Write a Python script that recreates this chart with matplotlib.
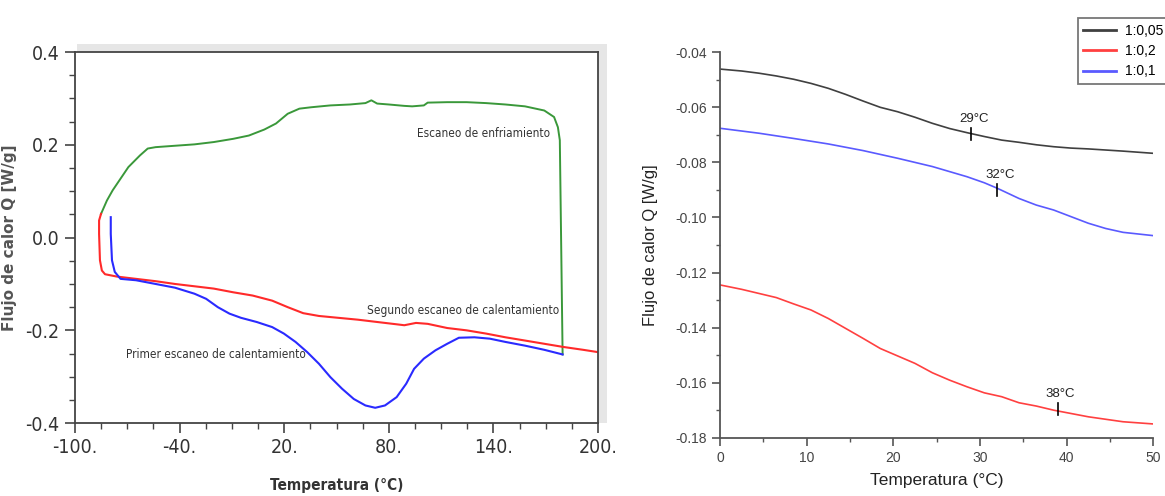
import matplotlib
matplotlib.use("Agg")
import matplotlib.pyplot as plt
from matplotlib.patches import Rectangle
from matplotlib.ticker import MultipleLocator, FuncFormatter

# ---- panel izquierdo: barridos DSC (-100 a 200 C)
enfr_x = [179.7, 178.8, 178.1, 177.0, 174.8, 169.2, 158.1, 146.9, 135.8, 124.6, 113.5,
          102.3, 100.1, 93.4, 88.9, 80.0, 73.3, 70.0, 66.6, 57.7, 46.5, 35.4, 28.7, 22.0,
          15.3, 8.6, -0.3, -9.2, -20.4, -31.5, -42.7, -53.8, -58.3, -62.8, -69.4, -73.9,
          -78.4, -81.7, -85.1]
enfr_y = [-0.252, 0.008, 0.210, 0.238, 0.260, 0.274, 0.283, 0.287, 0.290, 0.292, 0.292,
          0.291, 0.285, 0.283, 0.284, 0.287, 0.289, 0.296, 0.290, 0.287, 0.285, 0.281, 0.278,
          0.267, 0.246, 0.233, 0.220, 0.213, 0.206, 0.201, 0.198, 0.195, 0.192, 0.177, 0.152,
          0.127, 0.102, 0.080, 0.051]

seg_x = [-85.1, -86.2, -86.2, -85.7, -84.6, -82.8, -76.1, -65.0, -53.8, -42.7, -31.5,
         -20.4, -9.2, 1.9, 13.1, 22.0, 30.9, 39.9, 51.0, 62.2, 73.3, 84.5, 88.9, 95.6,
         102.3, 113.5, 124.6, 135.8, 146.9, 158.1, 169.2, 180.4, 191.5, 200.0]
seg_y = [0.051, 0.037, 0.008, -0.049, -0.071, -0.079, -0.084, -0.089, -0.094, -0.100, -0.105,
         -0.110, -0.118, -0.125, -0.136, -0.150, -0.163, -0.169, -0.173, -0.177, -0.182, -0.187,
         -0.189, -0.184, -0.186, -0.195, -0.200, -0.207, -0.215, -0.222, -0.229, -0.236,
         -0.242, -0.247]

prim_x = [-79.5, -79.5, -78.8, -77.2, -73.9, -65.0, -53.8, -42.7, -31.5, -24.8, -18.1,
          -11.4, -4.8, 4.2, 13.1, 19.8, 26.5, 33.2, 39.9, 46.5, 53.2, 59.9, 66.6, 72.2,
          77.8, 84.5, 90.0, 94.5, 100.1, 106.8, 113.5, 120.2, 129.1, 138.0, 146.9, 158.1,
          169.2, 179.7]
prim_y = [0.044, 0.008, -0.049, -0.074, -0.089, -0.092, -0.100, -0.108, -0.121, -0.132, -0.150,
          -0.164, -0.173, -0.182, -0.193, -0.207, -0.225, -0.247, -0.272, -0.301, -0.326,
          -0.348, -0.362, -0.367, -0.362, -0.344, -0.315, -0.283, -0.261, -0.243, -0.229,
          -0.216, -0.215, -0.218, -0.225, -0.233, -0.242, -0.252]

xticks_izq = [-100, -40, 20, 80, 140, 200]

# ---- panel derecho: ampliacion 0-50 C
temp_x = [0, 2.5, 4.5, 6.5, 8.5, 10.5, 12.5, 14.5, 16.5, 18.5, 20.5, 22.5, 24.5, 26.5,
          28.5, 30.5, 32.5, 34.5, 36.5, 38.5, 40.5, 42.5, 44.5, 46.5, 50]
r005 = [-0.0461, -0.0468, -0.0476, -0.0486, -0.0498, -0.0513, -0.0531, -0.0553, -0.0577,
        -0.0600, -0.0616, -0.0636, -0.0658, -0.0677, -0.0692, -0.0706, -0.0719, -0.0727,
        -0.0736, -0.0743, -0.0748, -0.0751, -0.0755, -0.0759, -0.0767]
r02 = [-0.1245, -0.1261, -0.1276, -0.1291, -0.1314, -0.1336, -0.1367, -0.1403, -0.1439,
       -0.1476, -0.1503, -0.1530, -0.1564, -0.1591, -0.1615, -0.1637, -0.1651, -0.1673,
       -0.1685, -0.1700, -0.1712, -0.1724, -0.1733, -0.1742, -0.1750]
r01_x = [0, 4.5, 8.5, 12.5, 16.5, 20.5, 24.5, 28.5, 30.5, 32, 34.5, 36.5, 38.5, 40.5,
         42.5, 44.5, 46.5, 50]
r01 = [-0.0676, -0.0694, -0.0713, -0.0733, -0.0757, -0.0785, -0.0815, -0.0852, -0.0874,
       -0.0894, -0.0931, -0.0955, -0.0973, -0.0997, -0.1021, -0.1040, -0.1054, -0.1066]

marcas_t = [29, 32, 39]
marcas_y = [-0.0697, -0.0900, -0.1695]
marcas_txt = ["29°C", "32°C", "38°C"]

arial = ["Liberation Sans", "DejaVu Sans"]
cond = dict(family="DejaVu Sans", fontstretch="condensed")

fig = plt.figure(figsize=(11.65, 4.96), dpi=100)

# sombra gris tipo Origin detras del panel izquierdo
sombra = fig.add_axes([0.066, 0.147, 0.455, 0.765], zorder=0)
sombra.add_patch(Rectangle((0, 0), 1, 1, transform=sombra.transAxes,
                           facecolor="#e6e6e6", edgecolor="none"))
sombra.axis("off")

ax1 = fig.add_axes([0.0644, 0.147, 0.4489, 0.748], zorder=1)
ax1.set_facecolor("white")
ax1.plot(enfr_x, enfr_y, color="#3a983a", lw=1.4)
ax1.plot(seg_x, seg_y, color="#ff2a2a", lw=1.5)
ax1.plot(prim_x, prim_y, color="#2a2aff", lw=1.5)
ax1.set_xlim(-100, 200)
ax1.set_ylim(-0.4, 0.4)
ax1.set_xticks(xticks_izq)
ax1.set_xticks(list(range(-100, 201, 15)), minor=True)
ax1.yaxis.set_major_locator(MultipleLocator(0.2))
ax1.yaxis.set_minor_locator(MultipleLocator(0.05))
ax1.xaxis.set_major_formatter(FuncFormatter(lambda v, p: f"{int(round(v))}."))
ax1.yaxis.set_major_formatter(FuncFormatter(lambda v, p: f"{v:.1f}"))
ax1.tick_params(which="major", direction="out", length=7, width=1.2, color="#444",
                labelsize=14, labelcolor="#333", pad=4)
ax1.tick_params(which="minor", direction="out", length=4, width=1.0, color="#444")
for lab in ax1.get_xticklabels() + ax1.get_yticklabels():
    lab.set_family("DejaVu Sans")
    lab.set_fontstretch("condensed")
for s in ax1.spines.values():
    s.set_color("#444")
    s.set_linewidth(1.3)
ax1.set_xlabel("Temperatura (°C)", fontsize=11, fontweight="bold", color="#333",
               labelpad=15, **cond)
ax1.set_ylabel("Flujo de calor Q [W/g]", family="DejaVu Sans", fontsize=11,
               fontweight="bold", color="#555")
ax1.yaxis.set_label_coords(-0.11, 0.5)
ax1.text(134.6, 0.225, "Escaneo de enfriamiento", fontsize=8.5, color="#333",
         ha="center", va="center", **cond)
ax1.text(122.4, -0.157, "Segundo escaneo de calentamiento", fontsize=8.5, color="#333",
         ha="center", va="center", **cond)
ax1.text(-19.3, -0.252, "Primer escaneo de calentamiento", fontsize=8.5, color="#333",
         ha="center", va="center", **cond)

ax2 = fig.add_axes([0.618, 0.1175, 0.372, 0.7771])
l1, = ax2.plot(temp_x, r005, color="#404040", lw=1.2, label="1:0,05")
l2, = ax2.plot(temp_x, r02, color="#ff4040", lw=1.2, label="1:0,2")
l3, = ax2.plot(r01_x, r01, color="#5a5aff", lw=1.2, label="1:0,1")
for t, y, s in zip(marcas_t, marcas_y, marcas_txt):
    ax2.plot([t, t], [y + 0.0022, y - 0.0022], color="black", lw=1.2)
    ax2.text(t + 0.3, y + 0.0032, s, family=arial, fontsize=9.5, color="#222",
             ha="center", va="bottom")
ax2.set_xlim(0, 50)
ax2.set_ylim(-0.18, -0.04)
ax2.xaxis.set_major_locator(MultipleLocator(10))
ax2.xaxis.set_minor_locator(MultipleLocator(5))
ax2.yaxis.set_major_locator(MultipleLocator(0.02))
ax2.yaxis.set_minor_locator(MultipleLocator(0.01))
ax2.yaxis.set_major_formatter(FuncFormatter(lambda v, p: f"{v:.2f}"))
ax2.tick_params(which="major", direction="out", length=6, width=1.2, color="#555",
                labelsize=10, labelcolor="#444")
ax2.tick_params(which="minor", direction="out", length=3, width=1.0, color="#555")
for lab in ax2.get_xticklabels() + ax2.get_yticklabels():
    lab.set_family(arial)
for side in ["top", "right"]:
    ax2.spines[side].set_visible(False)
for side in ["left", "bottom"]:
    ax2.spines[side].set_color("#555")
    ax2.spines[side].set_linewidth(1.3)
ax2.set_xlabel("Temperatura (°C)", family=arial, fontsize=12.5, color="#222", labelpad=6)
ax2.set_ylabel("Flujo de calor Q [W/g]", family=arial, fontsize=12, color="#222",
               labelpad=12)

leg = fig.legend(handles=[l1, l2, l3], loc="upper left", bbox_to_anchor=(0.919, 0.977),
                 frameon=True, fancybox=False, edgecolor="#555",
                 handlelength=2.4, handletextpad=0.6, borderpad=0.4, labelspacing=0.45,
                 prop={"family": arial, "size": 10})
leg.get_frame().set_linewidth(1.3)
for h in leg.legend_handles:
    h.set_linewidth(2)

fig.savefig("out.png", dpi=100)
